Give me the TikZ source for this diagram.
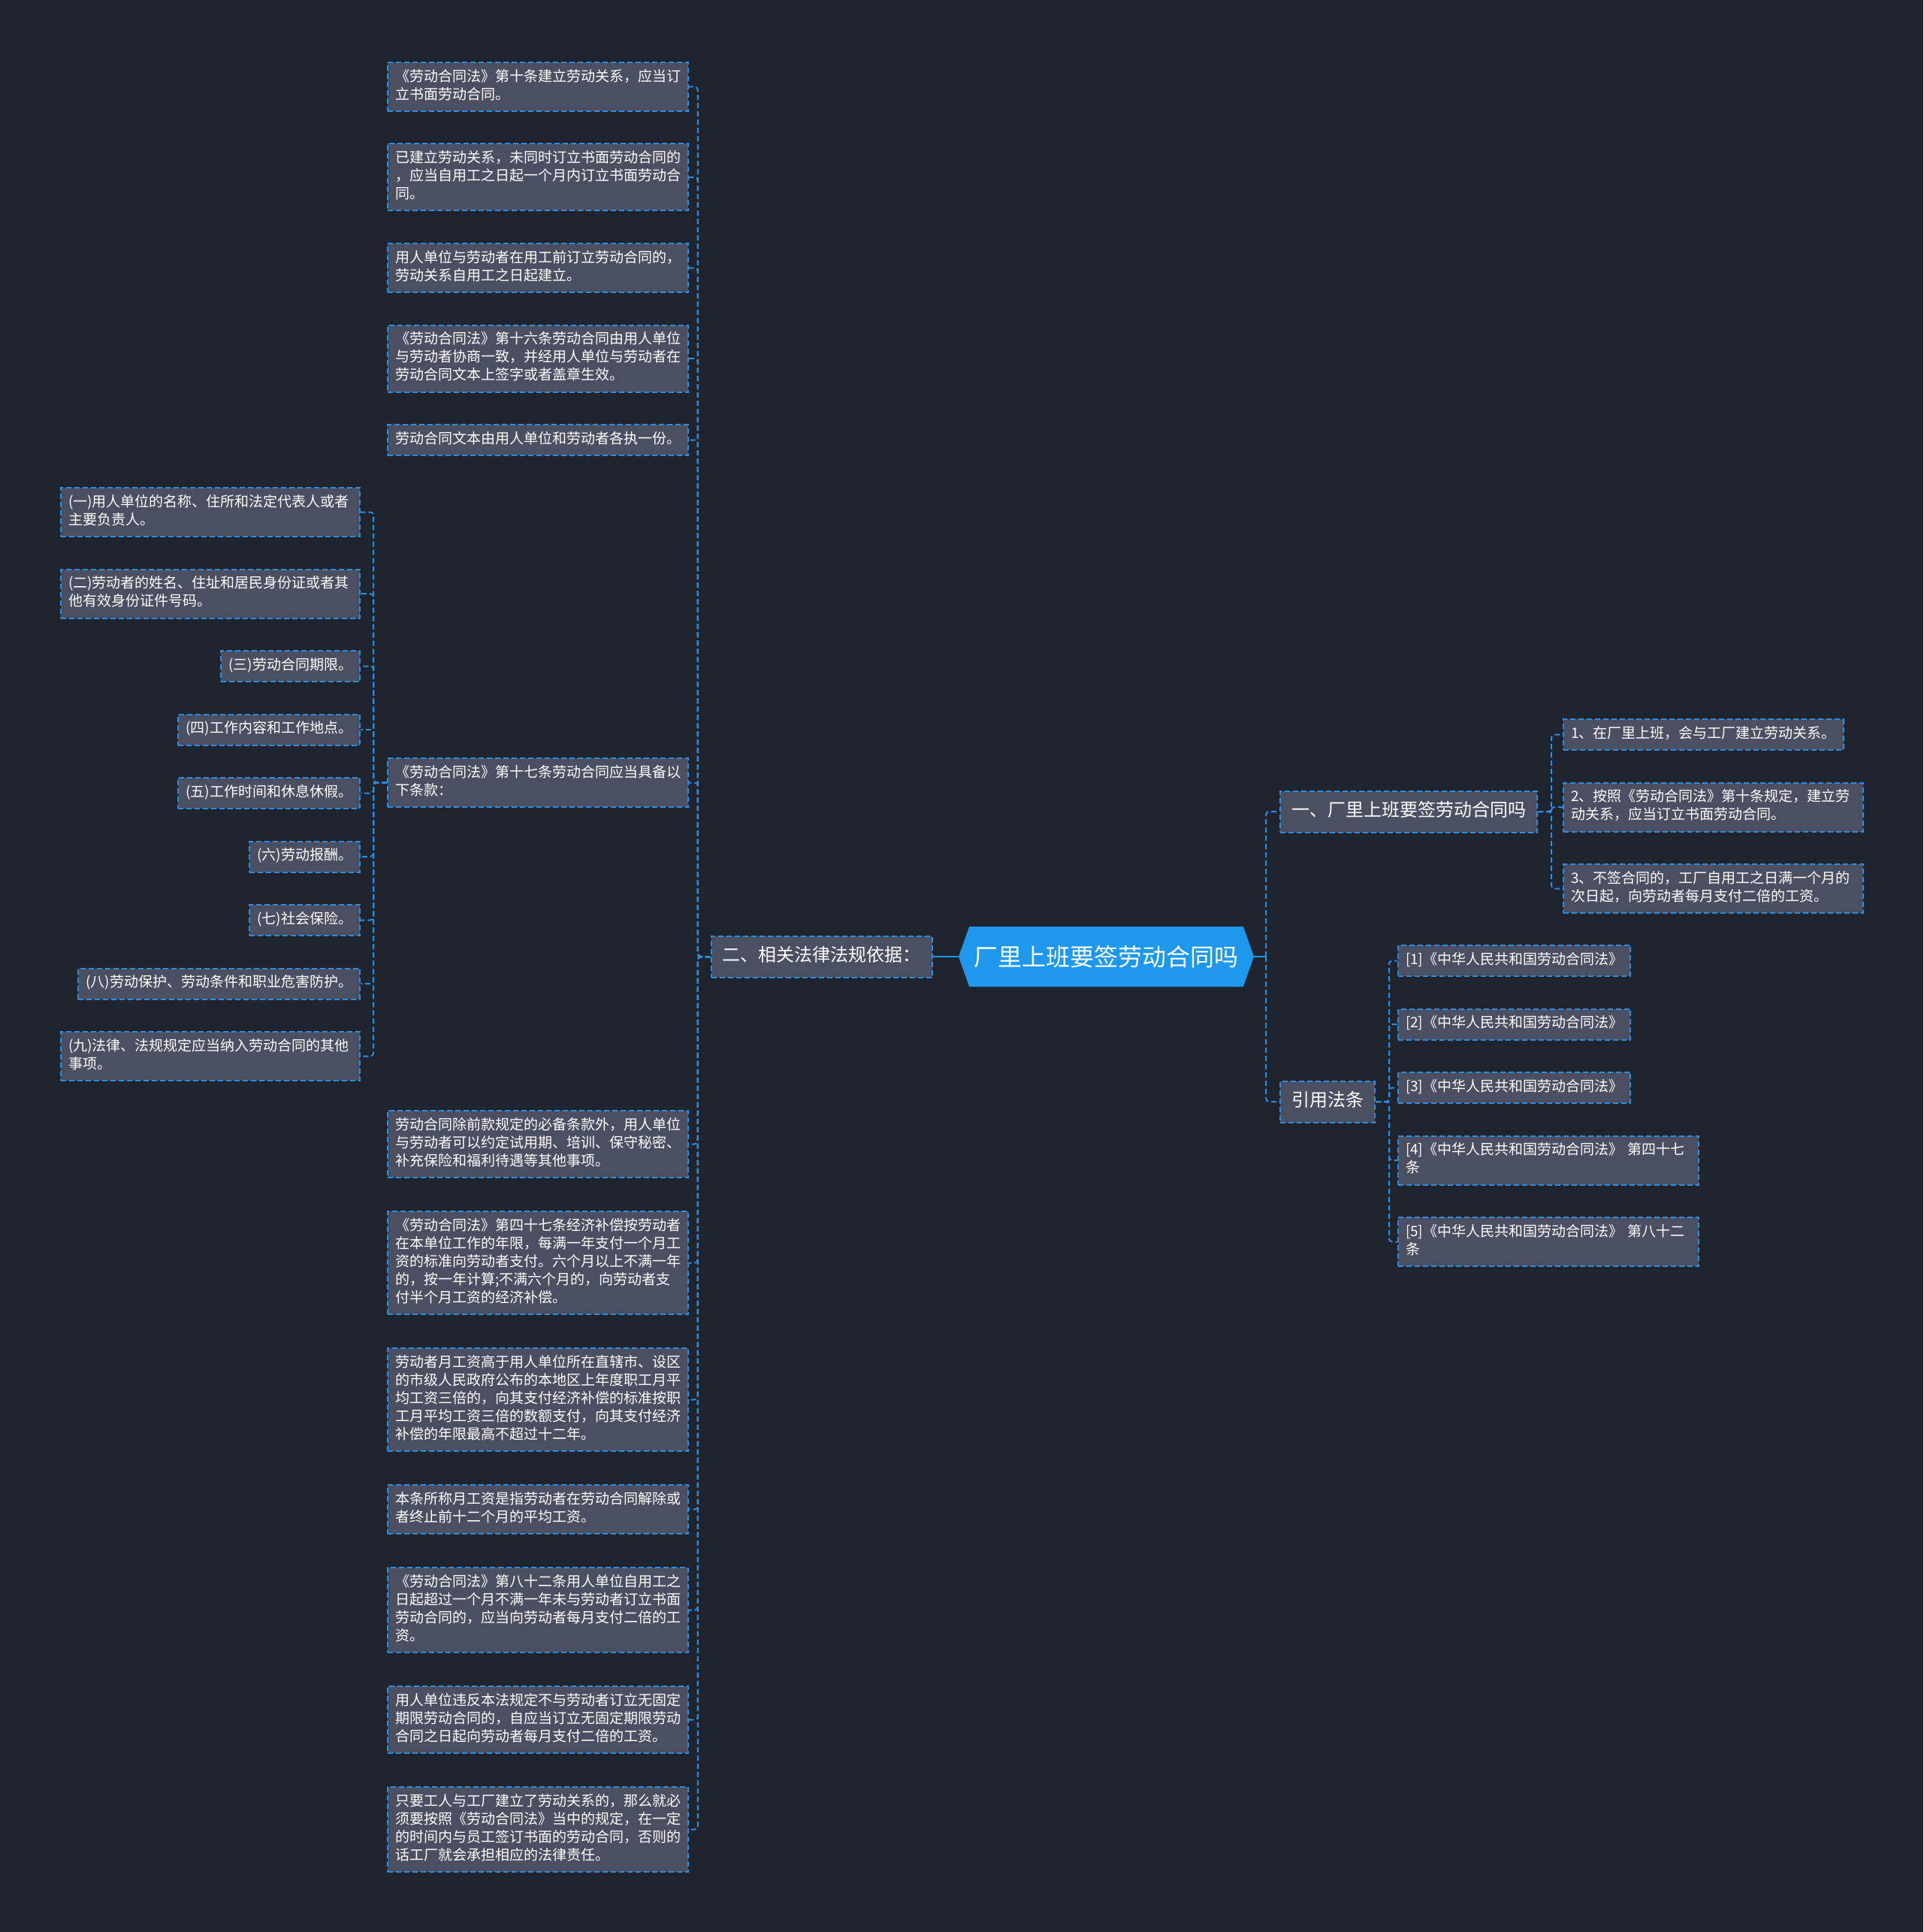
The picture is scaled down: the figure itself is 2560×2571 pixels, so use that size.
\documentclass[tikz,border=0pt]{standalone}
\usepackage{fontspec}
\usepackage{xcolor}
\usepackage{tikz}
\usetikzlibrary{shapes,positioning}
\newfontfamily\cjk{Noto Sans CJK SC}
\definecolor{canvas}{HTML}{20242F}
\definecolor{boxgray}{HTML}{4A5061}
\definecolor{dashblue}{HTML}{2B8DE0}
\definecolor{hubblue}{HTML}{1E98EC}

\begin{document}
\begin{tikzpicture}[x=1pt, y=-1pt, node distance=41.5pt,
    leaf/.style={draw=dashblue, dash pattern=on 7pt off 4pt, line width=2pt, fill=boxgray, text=white,
      font=\cjk\fontsize{19}{24}\selectfont, inner xsep=10pt, inner ysep=8.5pt, align=left,
      execute at begin node=\strut, execute at end node=\strut},
    wideleaf/.style={leaf, text width=380pt},
    branch/.style={leaf, font=\cjk\fontsize{24}{30}\selectfont, inner xsep=15pt, inner ysep=12.5pt},
    hub/.style={signal, signal to=east and west, signal pointer angle=141, fill=hubblue, text=white,
      font=\cjk\fontsize{32}{40}\selectfont, minimum width=393pt, minimum height=80pt, inner sep=0pt},
    conn/.style={dashblue, line width=2pt, dash pattern=on 7pt off 4pt, rounded corners=4pt},
    trunkline/.style={hubblue, line width=2.5pt}]
\fill[canvas] (0,0) rectangle (2560,2571);

% Root
\node[hub] (root) at (1472.5,1273) {厂里上班要签劳动合同吗};

% Basis branch
\node[branch, left=34pt of root] (basis) {二、相关法律法规依据：};
\node[wideleaf, anchor=north west] (basis-1) at (515,82) {《劳动合同法》第十条建立劳动关系，应当订\\立书面劳动合同。};
\node[wideleaf, below=of basis-1] (basis-2) {已建立劳动关系，未同时订立书面劳动合同的\\，应当自用工之日起一个月内订立书面劳动合\\同。};
\node[wideleaf, below=of basis-2] (basis-3) {用人单位与劳动者在用工前订立劳动合同的，\\劳动关系自用工之日起建立。};
\node[wideleaf, below=of basis-3] (basis-4) {《劳动合同法》第十六条劳动合同由用人单位\\与劳动者协商一致，并经用人单位与劳动者在\\劳动合同文本上签字或者盖章生效。};
\node[wideleaf, below=of basis-4] (basis-5) {劳动合同文本由用人单位和劳动者各执一份。};
\node[wideleaf, anchor=north west] (basis-6) at (515,1008) {《劳动合同法》第十七条劳动合同应当具备以\\下条款：};
\node[wideleaf, anchor=north west] (basis-7) at (515,1477) {劳动合同除前款规定的必备条款外，用人单位\\与劳动者可以约定试用期、培训、保守秘密、\\补充保险和福利待遇等其他事项。};
\node[wideleaf, below=43pt of basis-7] (basis-8) {《劳动合同法》第四十七条经济补偿按劳动者\\在本单位工作的年限，每满一年支付一个月工\\资的标准向劳动者支付。六个月以上不满一年\\的，按一年计算;不满六个月的，向劳动者支\\付半个月工资的经济补偿。};
\node[wideleaf, below=43pt of basis-8] (basis-9) {劳动者月工资高于用人单位所在直辖市、设区\\的市级人民政府公布的本地区上年度职工月平\\均工资三倍的，向其支付经济补偿的标准按职\\工月平均工资三倍的数额支付，向其支付经济\\补偿的年限最高不超过十二年。};
\node[wideleaf, below=43pt of basis-9] (basis-10) {本条所称月工资是指劳动者在劳动合同解除或\\者终止前十二个月的平均工资。};
\node[wideleaf, below=43pt of basis-10] (basis-11) {《劳动合同法》第八十二条用人单位自用工之\\日起超过一个月不满一年未与劳动者订立书面\\劳动合同的，应当向劳动者每月支付二倍的工\\资。};
\node[wideleaf, below=43pt of basis-11] (basis-12) {用人单位违反本法规定不与劳动者订立无固定\\期限劳动合同的，自应当订立无固定期限劳动\\合同之日起向劳动者每月支付二倍的工资。};
\node[wideleaf, below=43pt of basis-12] (basis-13) {只要工人与工厂建立了劳动关系的，那么就必\\须要按照《劳动合同法》当中的规定，在一定\\的时间内与员工签订书面的劳动合同，否则的\\话工厂就会承担相应的法律责任。};

% Terms of article 17
\node[leaf, text width=378pt, anchor=north east] (terms-1) at (480,648) {(一)用人单位的名称、住所和法定代表人或者\\主要负责人。};
\node[leaf, text width=378pt, below=of terms-1.south east, anchor=north east] (terms-2) {(二)劳动者的姓名、住址和居民身份证或者其\\他有效身份证件号码。};
\node[leaf, below=of terms-2.south east, anchor=north east] (terms-3) {(三)劳动合同期限。};
\node[leaf, below=of terms-3.south east, anchor=north east] (terms-4) {(四)工作内容和工作地点。};
\node[leaf, below=of terms-4.south east, anchor=north east] (terms-5) {(五)工作时间和休息休假。};
\node[leaf, below=of terms-5.south east, anchor=north east] (terms-6) {(六)劳动报酬。};
\node[leaf, below=of terms-6.south east, anchor=north east] (terms-7) {(七)社会保险。};
\node[leaf, below=of terms-7.south east, anchor=north east] (terms-8) {(八)劳动保护、劳动条件和职业危害防护。};
\node[leaf, text width=378pt, below=of terms-8.south east, anchor=north east] (terms-9) {(九)法律、法规规定应当纳入劳动合同的其他\\事项。};

% Intro branch
\node[branch, anchor=west] (intro) at (1703,1080) {一、厂里上班要签劳动合同吗};
\node[leaf, anchor=north west] (intro-1) at (2080,956) {1、在厂里上班，会与工厂建立劳动关系。};
\node[leaf, text width=379pt, below=of intro-1.south west, anchor=north west] (intro-2) {2、按照《劳动合同法》第十条规定，建立劳\\动关系，应当订立书面劳动合同。};
\node[leaf, text width=379pt, below=of intro-2.south west, anchor=north west] (intro-3) {3、不签合同的，工厂自用工之日满一个月的\\次日起，向劳动者每月支付二倍的工资。};

% Cited laws
\node[branch, anchor=west] (cite) at (1703,1466) {引用法条};
\node[leaf, anchor=north west] (cite-1) at (1860,1257) {[1]《中华人民共和国劳动合同法》};
\node[leaf, below=of cite-1.south west, anchor=north west] (cite-2) {[2]《中华人民共和国劳动合同法》};
\node[leaf, below=of cite-2.south west, anchor=north west] (cite-3) {[3]《中华人民共和国劳动合同法》};
\node[leaf, text width=380pt, below=of cite-3.south west, anchor=north west] (cite-4) {[4]《中华人民共和国劳动合同法》 第四十七\\条};
\node[leaf, text width=380pt, below=of cite-4.south west, anchor=north west] (cite-5) {[5]《中华人民共和国劳动合同法》 第八十二\\条};

% Connectors
\draw[trunkline] (root.west) -- (basis.east);
\draw[trunkline] (root.east) -- ++(16,0) coordinate (root-fork);
\draw[conn] (root-fork) |- (intro.west);
\draw[conn] (root-fork) |- (cite.west);
\foreach \i in {1,...,13}
  \draw[conn] (basis.west) -- ++(-17,0) |- (basis-\i.east);
\foreach \i in {1,...,9}
  \draw[conn] (basis-6.west) -- ++(-18,0) |- (terms-\i.east);
\foreach \i in {1,2,3}
  \draw[conn] (intro.east) -- ++(18,0) |- (intro-\i.west);
\foreach \i in {1,...,5}
  \draw[conn] (cite.east) -- ++(18,0) |- (cite-\i.west);

\end{tikzpicture}
\end{document}
